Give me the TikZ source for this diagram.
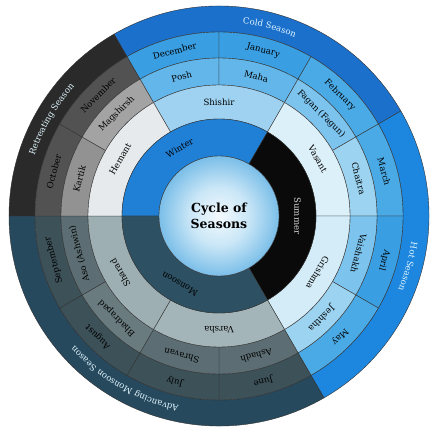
\documentclass[tikz,border=0pt]{standalone}
\usepackage{fontspec}
\setmainfont{DejaVu Serif}
\usetikzlibrary{decorations.text}

% outer season band
\definecolor{seaCold}{HTML}{1B70CC}
\definecolor{seaHot}{HTML}{1D86DE}
\definecolor{seaMon}{HTML}{26495E}
\definecolor{seaRet}{HTML}{2A2A2A}
% english months
\definecolor{engBlueA}{HTML}{3A9FE2}
\definecolor{engBlueB}{HTML}{4AAAE6}
\definecolor{engSlate}{HTML}{3D5158}
\definecolor{engGrey}{HTML}{525252}
% indian months
\definecolor{indBlueA}{HTML}{62B6EA}
\definecolor{indBlueB}{HTML}{7CC3EE}
\definecolor{indBlueC}{HTML}{9CD3F0}
\definecolor{indSlateA}{HTML}{5C6E73}
\definecolor{indSlateB}{HTML}{6A7B80}
\definecolor{indGreyA}{HTML}{929292}
\definecolor{indGreyB}{HTML}{A3A3A3}
% indian seasons
\definecolor{ritShishir}{HTML}{9FD2F1}
\definecolor{ritVasant}{HTML}{DCF0F9}
\definecolor{ritGrishma}{HTML}{D3ECF7}
\definecolor{ritVarsha}{HTML}{A3B5B9}
\definecolor{ritSharad}{HTML}{9DAFB3}
\definecolor{ritHemant}{HTML}{E6EAEC}
% main seasons
\definecolor{mainWinter}{HTML}{1F80D6}
\definecolor{mainSummer}{HTML}{0A0A0A}
\definecolor{mainMonsoon}{HTML}{2D5062}
% hub
\definecolor{hubA}{HTML}{F2F9FD}
\definecolor{hubB}{HTML}{CBE7F7}
\definecolor{hubC}{HTML}{6EB8E6}
\definecolor{hubD}{HTML}{BCE1F5}

\pgfdeclareradialshading{hubshade}{\pgfpoint{0bp}{0bp}}{%
  color(0bp)=(hubA); color(12bp)=(hubB); color(27bp)=(hubC);
  color(37bp)=(hubC); color(45bp)=(hubD); color(50bp)=(hubD)}

\newcommand{\wedgefill}[5]{%
  \filldraw[ring, fill=#1] (#2:#4) arc[start angle=#2, end angle=#3, radius=#4]
    -- (#3:#5) arc[start angle=#3, end angle=#2, radius=#5] -- cycle;}

\begin{document}
\begin{tikzpicture}[x=1pt, y=1pt,
    ring/.style={draw=black!80, line width=0.4pt},
    lbl/.style={font=\fontsize{8.6}{10}\selectfont, inner sep=0pt},
    hub/.style={font=\bfseries\fontsize{12.5}{16.5}\selectfont, align=center},
    arcLbl/.style={decorate, decoration={text along path, text align=center,
                   text color=white!88!cyan, text={|\fontsize{8.6}{10}\selectfont|#1}}}]
  \useasboundingbox (-219,-217) rectangle (228,216);

  % outer band
  \foreach \s/\e/\c in {30/120/seaCold, -60/30/seaHot, -180/-60/seaMon, 120/180/seaRet}
    \wedgefill{\c}{\s}{\e}{184}{210};
  % english months
  \foreach \s/\c in {90/engBlueA, 60/engBlueA, 30/engBlueB, 0/engBlueB, -30/engBlueA,
                     -60/engBlueB, -90/engSlate, -120/engSlate, -150/engSlate,
                     -180/engSlate, 150/engGrey, 120/engGrey}
    \wedgefill{\c}{\s}{\s+30}{158}{184};
  % indian months
  \foreach \s/\c in {90/indBlueA, 60/indBlueA, 30/indBlueB, 0/indBlueC, -30/indBlueB,
                     -60/indBlueC, -90/indSlateA, -120/indSlateA, -150/indSlateB,
                     -180/indSlateA, 150/indGreyA, 120/indGreyB}
    \wedgefill{\c}{\s}{\s+30}{131}{158};
  % indian seasons
  \foreach \s/\c in {60/ritShishir, 0/ritVasant, -60/ritGrishma, -120/ritVarsha,
                     -180/ritSharad, 120/ritHemant}
    \wedgefill{\c}{\s}{\s+60}{97}{131};
  % main seasons
  \foreach \s/\c in {60/mainWinter, -60/mainSummer, -180/mainMonsoon}
    \wedgefill{\c}{\s}{\s+120}{60}{97};
  \shade[shading=hubshade, draw=black!80, line width=0.4pt] (0,0) circle[radius=60];

  \node[hub] (title) at (0,0) {Cycle of\\Seasons};

  \foreach \a/\t/\n in {120/Winter/winter, -120/Monsoon/monsoon}
    \node[lbl, rotate=\a-90] (\n) at (\a:78.5) {\t};
  \node[lbl, rotate=-90, text=white!85!black] (summer) at (0:78.5) {Summer};

  \foreach \a/\t/\n in {90/Shishir/shishir, 30/Vasant/vasant, -30/Grishma/grishma,
                        -90/Varsha/varsha, -150/Sharad/sharad, 150/Hemant/hemant}
    \node[lbl, rotate=\a-90] (\n) at (\a:114) {\t};

  \foreach \a/\t/\n in {105/Posh/posh, 75/Maha/maha, 45/{Fagan (Fagun)}/fagan,
                        15/Chaitra/chaitra, -15/Vaishakh/vaishakh, -45/Jeshtha/jeshtha,
                        -75/Ashadh/ashadh, -105/Shravan/shravan, -135/Bhadrapad/bhadrapad,
                        -165/{Aso (Ashwin)}/aso, 165/Kartik/kartik, 135/Magshirsh/magshirsh}
    \node[lbl, rotate=\a-90] (\n) at (\a:144.5) {\t};

  \foreach \a/\t/\n in {105/December/dec, 75/January/jan, 45/February/feb, 15/March/mar,
                        -15/April/apr, -45/May/may, -75/June/jun, -105/July/jul,
                        -135/August/aug, -165/September/sep, 165/October/oct,
                        135/November/nov}
    \node[lbl, rotate=\a-90] (\n) at (\a:171) {\t};

  % curved band labels
  \path[arcLbl={Cold Season}] (120:194) arc[start angle=120, end angle=30, radius=194];
  \path[arcLbl={Hot Season}] (30:194) arc[start angle=30, end angle=-60, radius=194];
  \path[arcLbl={Advancing Monsoon Season}] (-60:194) arc[start angle=-60, end angle=-180, radius=194];
  \path[arcLbl={Retreating Season}] (180:194) arc[start angle=180, end angle=120, radius=194];
\end{tikzpicture}
\end{document}
